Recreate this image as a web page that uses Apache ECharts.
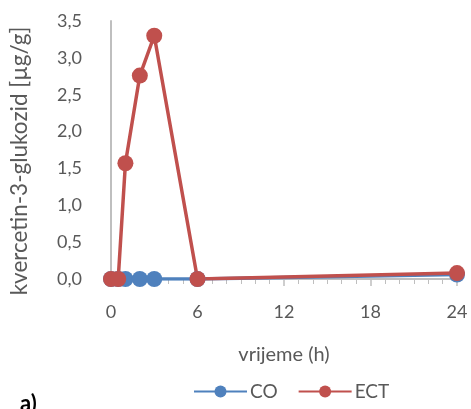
<!DOCTYPE html>
<html><head><meta charset="utf-8">
<script src="https://cdn.jsdelivr.net/npm/echarts@6/dist/echarts.min.js"></script>
<style>html,body{margin:0;padding:0;background:#fff}#c{width:471px;height:409px}</style>
</head><body><div id="c"></div>
<script>
var coX = [0, 0.5, 1, 2, 3, 6, 24];
var coY = [0, 0, 0, 0, 0, 0, 0.06];
var ectX = [0, 0.5, 1, 2, 3, 6, 24];
var ectY = [0, 0, 1.57, 2.76, 3.30, 0, 0.08];
var yTicks = [0, 0.5, 1, 1.5, 2, 2.5, 3, 3.5];
var xTicks = [0, 6, 12, 18, 24];

function pairs(xs, ys){ return xs.map(function(x,i){return [x, ys[i]];}); }
var font = 'Lato, "Open Sans", sans-serif';
var txt = '#595959';
var chart = echarts.init(document.getElementById('c'));
chart.setOption({
  animation: false,
  grid: {left: 111, right: 14, top: 21, bottom: 130},
  xAxis: {
    type: 'value', min: 0, max: 24, interval: 6,
    name: 'vrijeme (h)', nameLocation: 'middle', nameGap: 66,
    nameTextStyle: {color: txt, fontSize: 20, fontFamily: font},
    axisLine: {lineStyle: {color: '#bfbfbf', width: 2}},
    axisTick: {show: true, length: 7, lineStyle: {color: '#bfbfbf', width: 1.5}},
    minorTick: {show: true, splitNumber: 6, length: 5, lineStyle: {color: '#bfbfbf', width: 1}},
    splitLine: {show: false},
    axisLabel: {color: txt, fontSize: 18, fontFamily: font, margin: 24}
  },
  yAxis: {
    type: 'value', min: 0, max: 3.5, interval: 0.5,
    name: 'kvercetin-3-glukozid [µg/g]', nameLocation: 'middle', nameGap: 80, nameRotate: 90,
    nameTextStyle: {color: txt, fontSize: 22.5, fontFamily: font, padding: [0, 22, 0, 0]},
    axisLine: {show: true, lineStyle: {color: '#bfbfbf', width: 2}},
    axisTick: {show: false},
    splitLine: {show: false},
    axisLabel: {color: txt, fontSize: 18, fontFamily: font, margin: 29,
      formatter: function(v){ return v.toFixed(1).replace('.', ','); }}
  },
  legend: {
    bottom: 3, left: 188, itemWidth: 53, itemHeight: 15, itemGap: 20,
    textStyle: {color: txt, fontSize: 19, fontFamily: font, padding: [0,0,0,-2]},
    data: ['CO', 'ECT']
  },
  graphic: [{type: 'text', left: 20, top: 393, style: {text: 'a)', fontSize: 22, fontWeight: 'bold', fill: '#000', fontFamily: font}}],
  series: [
    {name: 'CO', type: 'line', data: pairs(coX, coY), symbol: 'circle', symbolSize: 16,
      itemStyle: {color: '#4F81BD'}, lineStyle: {color: '#4F81BD', width: 3.5}},
    {name: 'ECT', type: 'line', data: pairs(ectX, ectY), symbol: 'circle', symbolSize: 16,
      itemStyle: {color: '#C0504D'}, lineStyle: {color: '#C0504D', width: 3.5}}
  ]
});
</script></body></html>
